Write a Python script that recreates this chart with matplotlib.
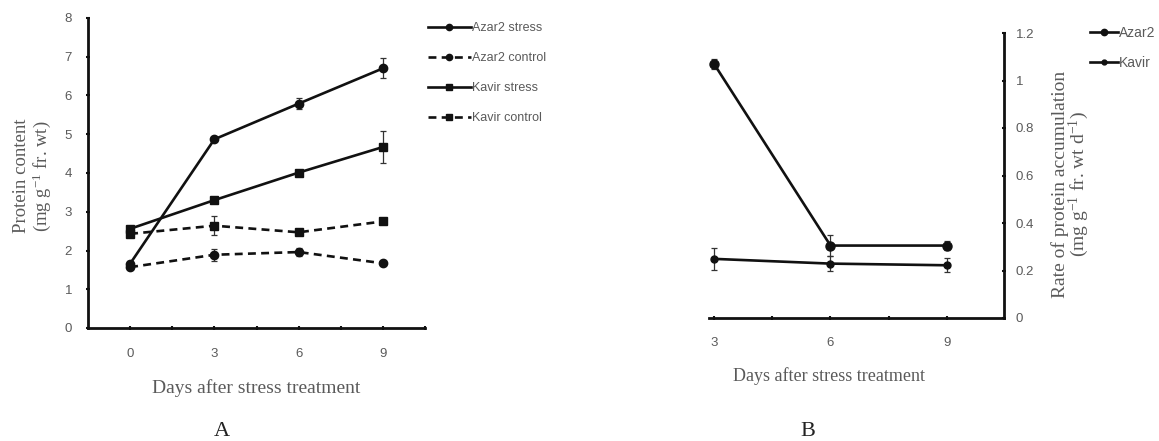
import matplotlib
matplotlib.use("Agg")
import matplotlib.pyplot as plt

# panel A: protein content
days = [0, 3, 6, 9]
azar2_stress = [1.66, 4.87, 5.79, 6.70]
azar2_stress_err = [0.06, 0.05, 0.15, 0.26]
azar2_control = [1.57, 1.89, 1.96, 1.67]
azar2_control_err = [0.05, 0.16, 0.10, 0.05]
kavir_stress = [2.56, 3.30, 4.01, 4.67]
kavir_stress_err = [0.05, 0.08, 0.06, 0.42]
kavir_control = [2.43, 2.64, 2.47, 2.75]
kavir_control_err = [0.05, 0.24, 0.05, 0.06]

# panel B: rate of protein accumulation
days_b = [3, 6, 9]
azar2_rate = [1.07, 0.305, 0.305]
azar2_rate_err = [0.02, 0.045, 0.02]
kavir_rate = [0.249, 0.229, 0.222]
kavir_rate_err = [0.045, 0.03, 0.03]

W, H = 1159, 441
INK = "#111111"
GREY = "#5a5a5a"
SANS = "Liberation Sans"
SERIF = "Liberation Serif"

plt.rcParams["mathtext.default"] = "regular"


def px_axes(fig, left, top, right, bottom):
    return fig.add_axes([left / W, 1 - bottom / H, (right - left) / W, (bottom - top) / H])


def style_axis(ax):
    for s in ax.spines.values():
        s.set_linewidth(2.0)
        s.set_color(INK)
    ax.tick_params(which="both", length=3, width=1.5, color=INK, direction="inout",
                   labelsize=9.5, labelcolor=GREY)
    for lbl in ax.get_xticklabels() + ax.get_yticklabels():
        lbl.set_fontfamily(SANS)


def series(ax, x, y, err, ls, marker, ms, label):
    ax.errorbar(x, y, yerr=err, fmt="none", ecolor="#333333", elinewidth=0.9,
                capsize=2.5, capthick=0.9, zorder=2)
    line, = ax.plot(x, y, color=INK, lw=1.9, ls=ls, marker=marker, ms=ms,
                    markerfacecolor=INK, markeredgecolor=INK, label=label, zorder=3)
    return line


fig = plt.figure(figsize=(W / 100, H / 100), dpi=100)

# ---- panel A
ax = px_axes(fig, 88, 18, 425, 328)
dash = (0, (3.0, 2.0))
h1 = series(ax, days, azar2_stress, azar2_stress_err, "-", "o", 6, "Azar2 stress")
h2 = series(ax, days, azar2_control, azar2_control_err, dash, "o", 6, "Azar2 control")
h3 = series(ax, days, kavir_stress, kavir_stress_err, "-", "s", 5.5, "Kavir stress")
h4 = series(ax, days, kavir_control, kavir_control_err, dash, "s", 5.5, "Kavir control")
ax.set_xlim(-1.5, 10.5)
ax.set_ylim(0, 8)
ax.set_xticks(days)
ax.set_xticks([1.5, 4.5, 7.5, 10.5], minor=True)
ax.set_yticks(range(0, 9))
ax.spines["top"].set_visible(False)
ax.spines["right"].set_visible(False)
style_axis(ax)
ax.tick_params(axis="x", which="both", pad=13)
ax.tick_params(axis="y", pad=10)

fig.legend(handles=[h1, h2, h3, h4], loc="upper left",
           bbox_to_anchor=(428 / W, 1 - 22 / H), frameon=False,
           prop={"family": SANS, "size": 9}, labelcolor=GREY,
           handlelength=3.4, handletextpad=0.15, labelspacing=1.45, borderpad=0,
           borderaxespad=0, markerscale=0.75)

fig.text(33 / W, 1 - 176 / H, "Protein content\n(mg g$^{-1}$ fr. wt)", rotation=90,
         ha="center", va="center", family=SERIF, size=13.5, color=GREY, linespacing=1.05)
fig.text(256 / W, 1 - 388 / H, "Days after stress treatment", ha="center", va="center",
         family=SERIF, size=14, color=GREY)
fig.text(222 / W, 1 - 432 / H, "A", ha="center", va="center", family=SERIF, size=16,
         color="#222222")

# ---- panel B
bx = px_axes(fig, 709, 33, 1004, 318)
g1 = series(bx, days_b, azar2_rate, azar2_rate_err, "-", "o", 6.5, "Azar2")
g2 = series(bx, days_b, kavir_rate, kavir_rate_err, "-", "o", 5, "Kavir")
bx.set_xlim(2.87, 10.47)
bx.set_ylim(0, 1.2)
bx.set_xticks(days_b)
bx.set_xticks([4.5, 7.5], minor=True)
bx.set_yticks([0, 0.2, 0.4, 0.6, 0.8, 1.0, 1.2])
bx.set_yticklabels(["0", "0.2", "0.4", "0.6", "0.8", "1", "1.2"])
bx.yaxis.tick_right()
bx.spines["top"].set_visible(False)
bx.spines["left"].set_visible(False)
style_axis(bx)
bx.tick_params(axis="x", which="both", pad=12)
bx.tick_params(axis="y", pad=7)

fig.legend(handles=[g1, g2], loc="upper left",
           bbox_to_anchor=(1090 / W, 1 - 26 / H), frameon=False,
           prop={"family": SANS, "size": 10}, labelcolor=GREY,
           handlelength=2.0, handletextpad=0.05, labelspacing=1.12, borderpad=0,
           borderaxespad=0, markerscale=0.7)

fig.text(1071 / W, 1 - 184 / H, "Rate of protein accumulation\n(mg g$^{-1}$ fr. wt d$^{-1}$)",
         rotation=90, ha="center", va="center", family=SERIF, size=14, color=GREY,
         linespacing=0.9)
fig.text(829 / W, 1 - 376 / H, "Days after stress treatment", ha="center", va="center",
         family=SERIF, size=13, color=GREY)
fig.text(808 / W, 1 - 432 / H, "B", ha="center", va="center", family=SERIF, size=16,
         color="#222222")

fig.savefig("out.png", dpi=100, facecolor="white")
